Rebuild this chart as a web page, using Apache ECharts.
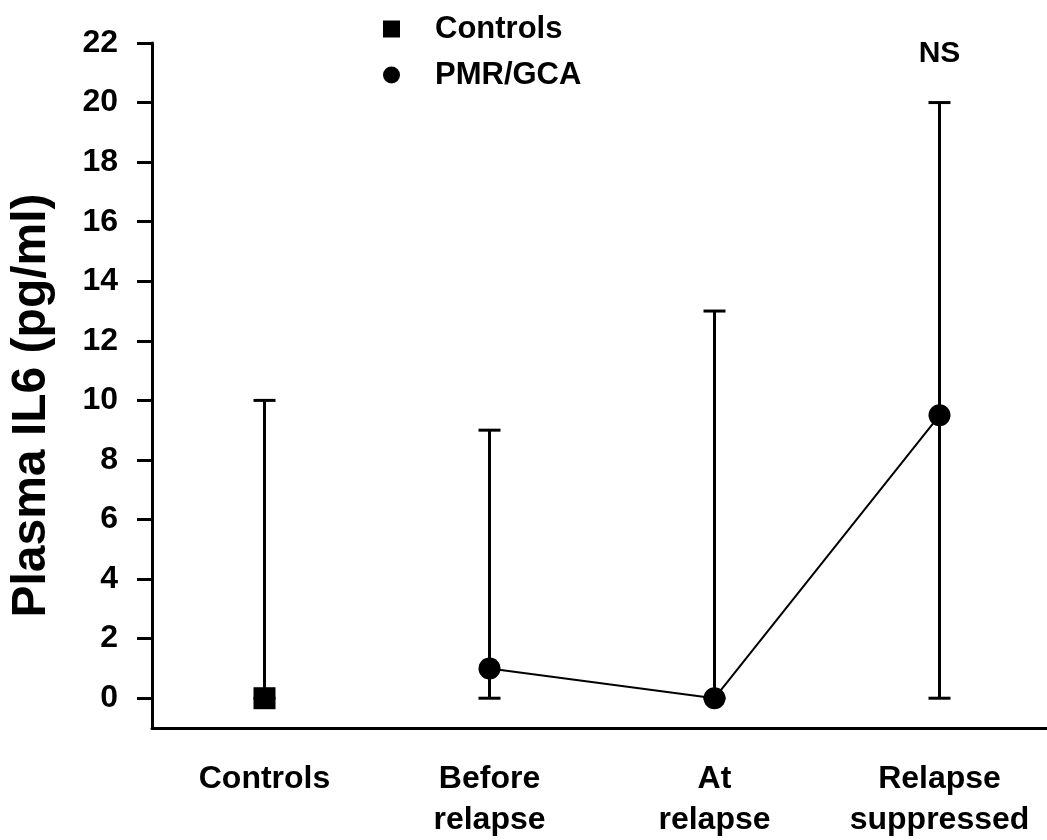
<!DOCTYPE html>
<html>
<head>
<meta charset="utf-8">
<script src="https://cdn.jsdelivr.net/npm/echarts@6/dist/echarts.min.js"></script>
<style>html,body{margin:0;padding:0;background:#fff;}#chart{width:1047px;height:840px;}</style>
</head>
<body>
<div id="chart"></div>
<script>
var categories = ['Controls', 'Before\nrelapse', 'At\nrelapse', 'Relapse\nsuppressed'];
var controlsMean = [0, '-', '-', '-'];
var pmrMean = ['-', 1, 0, 9.5];
var errorBars = [[0, 0, 10], [1, 0, 9], [2, 0, 13], [3, 0, 20]];
var yTicks = [0, 2, 4, 6, 8, 10, 12, 14, 16, 18, 20, 22];
var annotations = [[3, 21.65, 'NS']];

var FONT = "'Liberation Sans', Arial, Helvetica, sans-serif";
var chart = echarts.init(document.getElementById('chart'));

chart.setOption({
  backgroundColor: '#fff',
  animation: false,
  grid: { left: 152, right: -5, top: 43, bottom: 112, outerBoundsMode: 'none', containLabel: false },
  legend: {
    orient: 'vertical',
    left: 378,
    top: 8,
    itemWidth: 17,
    itemHeight: 17,
    itemGap: 14,
    data: [{ name: 'Controls', icon: 'rect' }, { name: 'PMR/GCA', icon: 'circle' }],
    textStyle: { fontFamily: FONT, fontWeight: 'bold', fontSize: 31, color: '#000', lineHeight: 32, padding: [0, 0, 0, 30] }
  },
  xAxis: {
    type: 'category',
    data: categories,
    boundaryGap: true,
    axisLine: { onZero: false, lineStyle: { color: '#000', width: 3 } },
    axisTick: { alignWithLabel: true, length: 16, lineStyle: { color: '#000', width: 3 } },
    axisLabel: { margin: 31, fontFamily: FONT, fontWeight: 'bold', fontSize: 32, color: '#000', lineHeight: 41, interval: 0 },
    splitLine: { show: false }
  },
  yAxis: {
    type: 'value',
    min: -1,
    max: 22,
    name: 'Plasma IL6 (pg/ml)',
    nameLocation: 'middle',
    nameGap: 96,
    nameTextStyle: { fontFamily: FONT, fontWeight: 'bold', fontSize: 48, color: '#000', padding: [0, 40, 0, 0] },
    axisLine: { show: true, lineStyle: { color: '#000', width: 3 } },
    axisTick: { show: true, length: 15, customValues: yTicks, lineStyle: { color: '#000', width: 3 } },
    axisLabel: { margin: 34, customValues: yTicks, fontFamily: FONT, fontWeight: 'bold', fontSize: 32, color: '#000' },
    splitLine: { show: false }
  },
  series: [
    {
      type: 'custom',
      name: 'errors',
      z: 1,
      data: errorBars,
      renderItem: function (params, api) {
        var x = api.value(0);
        var lo = api.coord([x, api.value(1)]);
        var hi = api.coord([x, api.value(2)]);
        var hw = 11;
        var st = { stroke: '#000', lineWidth: 3, fill: null };
        return {
          type: 'group',
          children: [
            { type: 'line', shape: { x1: lo[0], y1: lo[1], x2: hi[0], y2: hi[1] }, style: st },
            { type: 'line', shape: { x1: hi[0] - hw, y1: hi[1], x2: hi[0] + hw, y2: hi[1] }, style: st },
            { type: 'line', shape: { x1: lo[0] - hw, y1: lo[1], x2: lo[0] + hw, y2: lo[1] }, style: st }
          ]
        };
      }
    },
    {
      type: 'line',
      name: 'PMR/GCA',
      z: 3,
      data: pmrMean,
      symbol: 'circle',
      symbolSize: 22,
      connectNulls: true,
      lineStyle: { color: '#000', width: 2 },
      itemStyle: { color: '#000', opacity: 1 }
    },
    {
      type: 'scatter',
      name: 'Controls',
      z: 3,
      data: controlsMean,
      symbol: 'rect',
      symbolSize: 22,
      itemStyle: { color: '#000', opacity: 1 }
    },
    {
      type: 'scatter',
      name: 'annotations',
      z: 4,
      data: annotations,
      symbolSize: 0,
      itemStyle: { opacity: 1 },
      label: {
        show: true,
        position: 'inside',
        formatter: function (p) { return p.value[2]; },
        fontFamily: FONT, fontWeight: 'bold', fontSize: 30, color: '#000'
      }
    }
  ]
});
</script>
</body>
</html>
